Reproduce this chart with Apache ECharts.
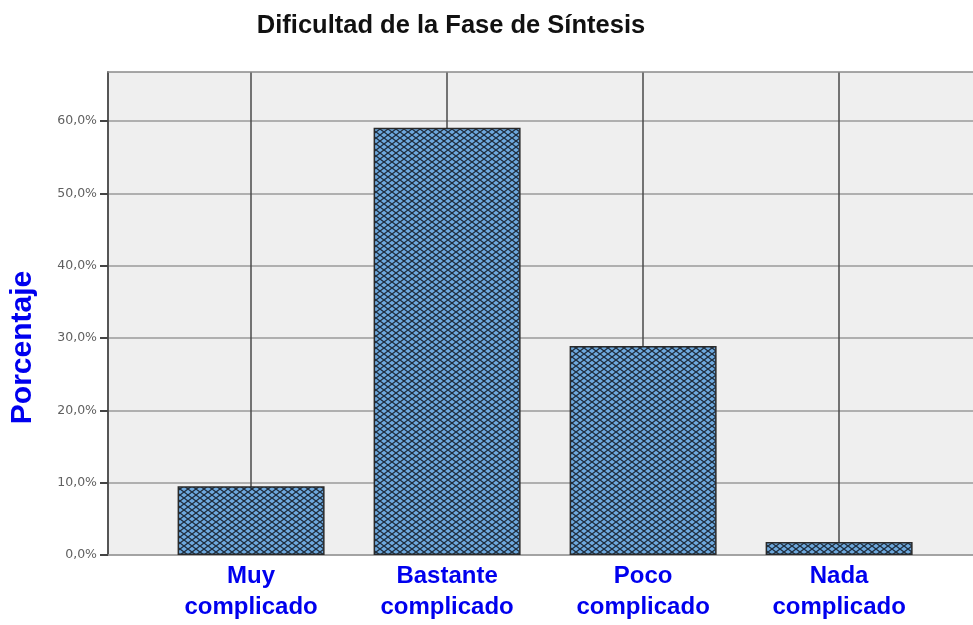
<!DOCTYPE html>
<html>
<head>
<meta charset="utf-8">
<script src="https://cdn.jsdelivr.net/npm/echarts@6/dist/echarts.min.js"></script>
<style>
  html, body { margin: 0; padding: 0; background: #ffffff; overflow: hidden; }
  #chart { width: 973px; height: 625px; }
</style>
</head>
<body>
<div id="chart"></div>
<script>
// categorias y porcentajes
var categories = ["Muy\ncomplicado", "Bastante\ncomplicado", "Poco\ncomplicado", "Nada\ncomplicado"];
var percentValues = [9.5, 59.1, 28.9, 1.8];
var yTickValues = [0, 10, 20, 30, 40, 50, 60];

// trama cuadriculada de las barras
function makePattern() {
  var c = document.createElement("canvas");
  c.width = 8;
  c.height = 6;
  var ctx = c.getContext("2d");
  ctx.fillStyle = "#6ea9de";
  ctx.fillRect(0, 0, 8, 6);
  ctx.strokeStyle = "#1f2d3d";
  ctx.lineWidth = 1.3;
  ctx.beginPath();
  ctx.moveTo(-1, 6.75); ctx.lineTo(9, -0.75);
  ctx.moveTo(-1, -0.75); ctx.lineTo(9, 6.75);
  ctx.moveTo(-5, 3.75); ctx.lineTo(5, -3.75);
  ctx.moveTo(3, 9.75); ctx.lineTo(13, 2.25);
  ctx.moveTo(-5, 2.25); ctx.lineTo(5, 9.75);
  ctx.moveTo(3, -3.75); ctx.lineTo(13, 3.75);
  ctx.stroke();
  return c;
}

var seriesData = [];
var xIdx = [];
for (var i = 0; i < categories.length; i++) {
  seriesData.push([i, percentValues[i]]);
  xIdx.push(i);
}

var myChart = echarts.init(document.getElementById("chart"));
myChart.setOption({
  animation: false,
  title: {
    text: "Dificultad de la Fase de Síntesis",
    left: 446,
    textAlign: "center",
    top: 8,
    textStyle: {
      fontFamily: "Liberation Sans",
      fontSize: 25.5,
      fontWeight: "bold",
      color: "#111111"
    }
  },
  grid: {
    left: 108,
    right: 0,
    top: 72,
    bottom: 70,
    show: true,
    backgroundColor: "#efefef",
    borderWidth: 0
  },
  xAxis: [
    {
      type: "value",
      min: -0.73,
      max: 3.683,
      axisLine: {
        show: true,
        onZero: false,
        lineStyle: { color: "#a0a0a0", width: 1.5 }
      },
      axisTick: {
        show: false,
        customValues: xIdx
      },
      axisLabel: {
        customValues: xIdx,
        formatter: function (v) { return categories[v]; },
        color: "#0000ee",
        fontFamily: "Liberation Sans",
        fontWeight: "bold",
        fontSize: 24,
        lineHeight: 31,
        margin: 6
      },
      splitLine: {
        show: true,
        lineStyle: { color: "#4a4a4a", width: 1.5 }
      }
    },
    {
      // linea superior del marco
      type: "value",
      position: "top",
      min: -0.73,
      max: 3.683,
      axisLine: {
        show: true,
        onZero: false,
        lineStyle: { color: "#8a8a8a", width: 1.5 }
      },
      axisTick: { show: false },
      axisLabel: { show: false },
      splitLine: { show: false }
    }
  ],
  yAxis: {
    type: "value",
    min: 0,
    max: 66.8,
    name: "Porcentaje",
    nameLocation: "middle",
    nameGap: 70,
    nameTextStyle: {
      color: "#0000ee",
      fontFamily: "Liberation Sans",
      fontWeight: "bold",
      fontSize: 30,
      padding: [0, 68, 0, 0]
    },
    axisLine: {
      show: true,
      onZero: false,
      lineStyle: { color: "#555555", width: 2 }
    },
    axisTick: {
      show: true,
      customValues: yTickValues,
      length: 8,
      lineStyle: { color: "#444444", width: 2 }
    },
    axisLabel: {
      customValues: yTickValues,
      formatter: function (v) { return v.toFixed(1).replace(".", ",") + "%"; },
      color: "#606060",
      fontFamily: "DejaVu Sans",
      fontSize: 12.5,
      margin: 11
    },
    splitLine: {
      show: true,
      lineStyle: { color: "#9a9a9a", width: 1.5 }
    }
  },
  series: [
    {
      type: "bar",
      data: seriesData,
      barWidth: 147,
      itemStyle: {
        color: { image: makePattern(), repeat: "repeat" },
        borderColor: "#2a2a2a",
        borderWidth: 1.5
      }
    }
  ]
});
</script>
</body>
</html>
